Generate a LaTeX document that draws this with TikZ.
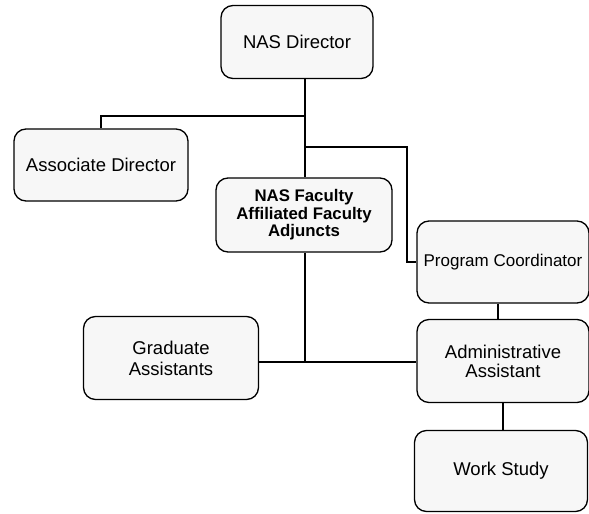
\documentclass[tikz,border=0pt]{standalone}
\usepackage{fontspec}
\setmainfont{Liberation Sans}
\begin{document}
\begin{tikzpicture}[x=1pt,y=-1pt,
  box/.style={draw=black, line width=1.3pt, rounded corners=12pt, fill=black!3,
    align=center, inner sep=0pt, font=\fontsize{18.5}{21}\selectfont},
  conn/.style={draw=black, line width=2.2pt}]
\useasboundingbox (0,0) rectangle (589,514);
\node[box, minimum width=152pt, minimum height=73pt] (dir) at (297,42) {NAS Director};
\node[box, minimum width=174pt, minimum height=72pt] (assoc) at (101,165) {Associate Director};
\node[box, minimum width=176pt, minimum height=74pt, font=\fontsize{16.8}{17.5}\selectfont\bfseries] (fac) at (304,215) {NAS Faculty\\Affiliated Faculty\\Adjuncts};
\node[box, minimum width=172pt, minimum height=82pt, font=\fontsize{17}{20}\selectfont] (prog) at (503,262) {Program Coordinator};
\node[box, minimum width=172pt, minimum height=83pt, font=\fontsize{18.5}{19}\selectfont] (admin) at (503,361) {Administrative\\Assistant};
\node[box, minimum width=173pt, minimum height=81pt] (work) at (501,471) {Work Study};
\node[box, minimum width=175pt, minimum height=83pt] (grad) at (171,358) {Graduate\\Assistants};
\coordinate (j1) at (305,116);
\coordinate (j2) at (305,147);
\coordinate (j3) at (305,362);
\draw[conn] (dir.south -| j1) -- (j1) -| (assoc.north);
\draw[conn] (j1) -- (fac.north -| j1);
\draw[conn] (j2) -- (407,147) |- (prog.west);
\draw[conn] (fac.south -| j3) -- (j3);
\draw[conn] (grad.east |- j3) -- (admin.west |- j3);
\draw[conn] (prog.south -| 498,0) -- (admin.north -| 498,0);
\draw[conn] (admin.south -| 503,0) -- (work.north -| 503,0);
\end{tikzpicture}
\end{document}
